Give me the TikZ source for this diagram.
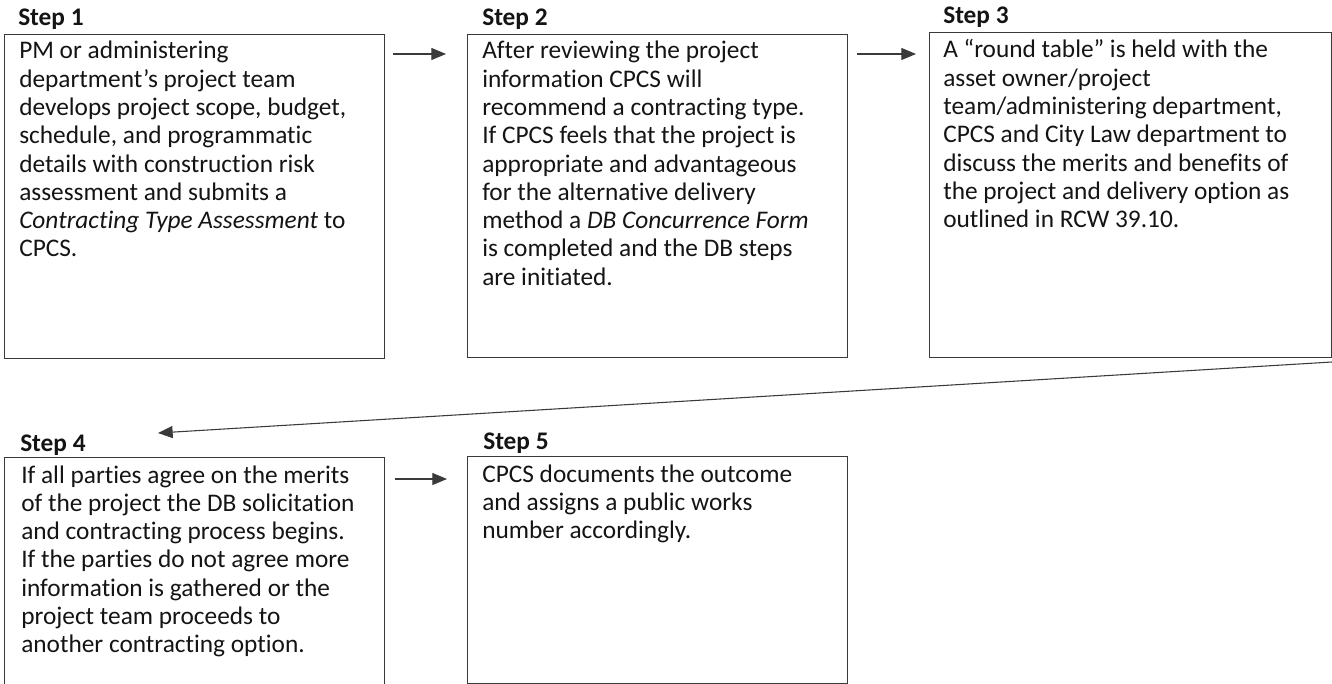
\documentclass[tikz,border=0pt]{standalone}
\usepackage{fontspec}
\setmainfont{Carlito}[Ligatures=NoCommon]
\usetikzlibrary{arrows.meta}
\definecolor{ink}{HTML}{141414}
\definecolor{edge}{HTML}{3A3A3A}
\tikzset{
  stepbox/.style={draw=edge, line width=1.1pt, inner sep=0pt, anchor=north west},
  bodytext/.style={anchor=base west, inner sep=0pt, text=ink, font=\fontsize{19}{21.2}\selectfont},
  steplabel/.style={anchor=base west, inner sep=0pt, text=ink, font=\fontsize{19}{21.2}\selectfont\bfseries},
  flow/.style={draw=edge, line width=0.8pt, -{Triangle[length=11pt,width=9pt]}, shorten >=0pt}
}
\newcommand{\boxtext}[1]{\parbox[t]{300pt}{\raggedright #1}}
\begin{document}
\begin{tikzpicture}[x=0.75pt,y=-0.75pt]
\useasboundingbox (0,0) rectangle (1332,684);
% boxes
\node[stepbox, minimum width=380*0.75pt, minimum height=324*0.75pt] (b1) at (4,34) {};
\node[stepbox, minimum width=380*0.75pt, minimum height=323*0.75pt] (b2) at (467,34) {};
\node[stepbox, minimum width=402*0.75pt, minimum height=325*0.75pt] (b3) at (929,32) {};
\node[stepbox, minimum width=380*0.75pt, minimum height=230*0.75pt] (b4) at (4,457) {};
\node[stepbox, minimum width=380*0.75pt, minimum height=227*0.75pt] (b5) at (467,456) {};
% labels
\node[steplabel] (l1) at (18,26) {Step 1};
\node[steplabel] (l2) at (482,26) {Step 2};
\node[steplabel] (l3) at (943,24) {Step 3};
\node[steplabel] (l4) at (20,451) {Step 4};
\node[steplabel] (l5) at (483,449) {Step 5};
% texts
\node[bodytext] (t1) at (19,59) {\boxtext{PM or administering\\department’s project team\\develops project scope, budget,\\schedule, and programmatic\\details with construction risk\\assessment and submits a\\\textit{Contracting Type Assessment} to\\CPCS.}};
\node[bodytext] (t2) at (482,59) {\boxtext{After reviewing the project\\information CPCS will\\recommend a contracting type.\\If CPCS feels that the project is\\appropriate and advantageous\\for the alternative delivery\\method a \textit{DB Concurrence Form}\\is completed and the DB steps\\are initiated.}};
\node[bodytext] (t3) at (943,58) {\boxtext{A “round table” is held with the\\asset owner/project\\team/administering department,\\CPCS and City Law department to\\discuss the merits and benefits of\\the project and delivery option as\\outlined in RCW 39.10.}};
\node[bodytext] (t4) at (21,483) {\boxtext{If all parties agree on the merits\\of the project the DB solicitation\\and contracting process begins.\\If the parties do not agree more\\information is gathered or the\\project team proceeds to\\another contracting option.}};
\node[bodytext] (t5) at (482,482) {\boxtext{CPCS documents the outcome\\and assigns a public works\\number accordingly.}};
% connector end points
\coordinate (a1s) at (393,54);
\coordinate (a1e) at (446,54);
\coordinate (a2s) at (857,54);
\coordinate (a2e) at (916,54);
\coordinate (a3s) at (1332,362);
\coordinate (a3e) at (158,433);
\coordinate (a4s) at (395,479);
\coordinate (a4e) at (447,479);
\draw[flow] (a1s) -- (a1e);
\draw[flow] (a2s) -- (a2e);
\draw[flow] (a3s) -- (a3e);
\draw[flow] (a4s) -- (a4e);
\end{tikzpicture}
\end{document}
